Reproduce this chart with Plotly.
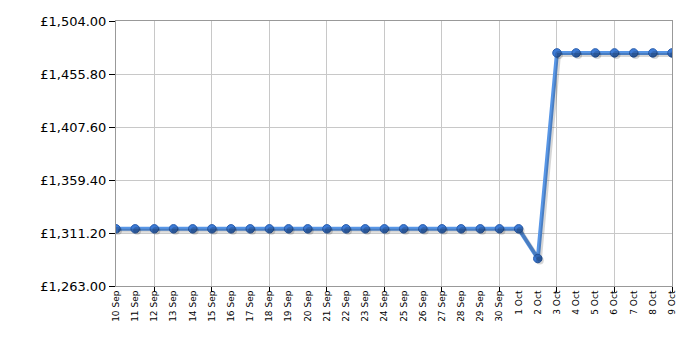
import plotly.graph_objects as go

dates = ["10 Sep","11 Sep","12 Sep","13 Sep","14 Sep","15 Sep","16 Sep","17 Sep","18 Sep","19 Sep",
         "20 Sep","21 Sep","22 Sep","23 Sep","24 Sep","25 Sep","26 Sep","27 Sep","28 Sep","29 Sep",
         "30 Sep","1 Oct","2 Oct","3 Oct","4 Oct","5 Oct","6 Oct","7 Oct","8 Oct","9 Oct"]
prices = [1314.99]*22 + [1287.99] + [1474.99]*7
y_ticks = [1263.00, 1311.20, 1359.40, 1407.60, 1455.80, 1504.00]
y_labels = ["£1,263.00", "£1,311.20", "£1,359.40", "£1,407.60", "£1,455.80", "£1,504.00"]

xs = list(range(len(dates)))
x_min, x_max = 0, len(dates) - 1
y_min, y_max = 1263.0, 1504.0

# plot area pixels
L, R, T, B = 116, 28, 21, 64
pw = 700 - L - R
ph = 350 - T - B
dx = (x_max - x_min) / pw * 2
dy = (y_max - y_min) / ph * 2

fig = go.Figure()
# shadow
fig.add_trace(go.Scatter(x=xs, y=prices, mode="lines+markers", xaxis="x2", yaxis="y2",
                         line=dict(color="rgba(0,0,0,0.16)", width=4),
                         marker=dict(size=8, color="rgba(0,0,0,0.16)"),
                         hoverinfo="skip", showlegend=False))
fig.add_trace(go.Scatter(x=xs, y=prices, mode="lines+markers",
                         line=dict(color="#5896e6", width=4),
                         marker=dict(size=8.5, color="#3d7bd6", line=dict(color="#2b5fae", width=1)),
                         showlegend=False))

fig.update_layout(
    width=700, height=350,
    margin=dict(l=L, r=R, t=T, b=B),
    paper_bgcolor="white", plot_bgcolor="white",
    font=dict(family="DejaVu Sans", color="#000"),
    xaxis=dict(range=[x_min, x_max], tickvals=xs, ticktext=dates, tickangle=-90,
               tickfont=dict(size=9), showgrid=False, ticks="",
               showline=True, linecolor="#999", mirror=True, zeroline=False,
               minor=dict(tick0=2, dtick=3, showgrid=True, gridcolor="#c8c8c8",
                          ticks="outside", ticklen=5, tickcolor="#000")),
    yaxis=dict(range=[y_min, y_max], tickvals=y_ticks, ticktext=y_labels,
               tickfont=dict(size=13), showgrid=True, gridcolor="#c8c8c8",
               ticks="outside", ticklen=6, tickcolor="#000",
               showline=True, linecolor="#999", mirror=True, zeroline=False),
    xaxis2=dict(range=[x_min - dx, x_max - dx], overlaying="x", visible=False),
    yaxis2=dict(range=[y_min + dy, y_max + dy], overlaying="y", visible=False),
)

fig.write_html("out.html")
